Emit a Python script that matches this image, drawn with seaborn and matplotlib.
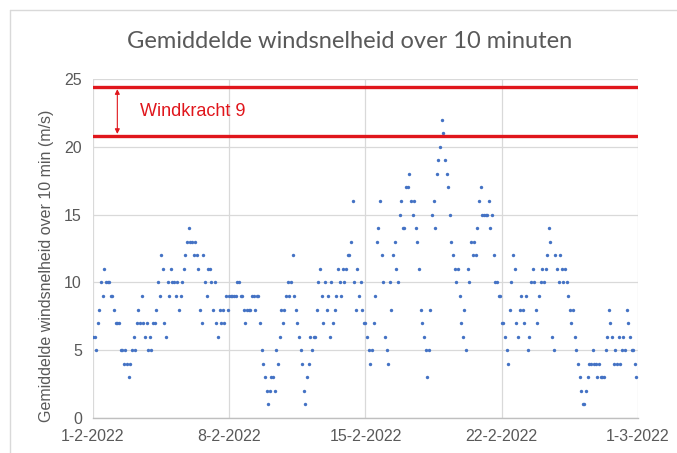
import matplotlib
matplotlib.use("Agg")
import matplotlib.pyplot as plt
import matplotlib.ticker as mticker
import matplotlib.dates as mdates
from matplotlib.lines import Line2D
import pandas as pd
import seaborn as sns

# 2-hourly wind speed readings (m/s), one list per day, Feb 2022
d01 = [6, 6, 5, 7, 8, 10, 9, 11, 10, 10, 10, 9]
d02 = [9, 8, 7, 7, 7, 5, 5, 4, 5, 4, 3, 4]
d03 = [5, 6, 5, 7, 8, 7, 9, 7, 6, 7, 5, 6]
d04 = [5, 7, 7, 8, 10, 9, 12, 11, 7, 6, 10, 9]
d05 = [11, 10, 10, 9, 10, 8, 9, 10, 11, 12, 13, 14]
d06 = [13, 13, 12, 13, 12, 11, 8, 7, 12, 10, 9, 11]
d07 = [11, 10, 8, 10, 7, 6, 8, 7, 8, 7, 9, 8]
d08 = [9, 9, 9, 9, 9, 10, 10, 9, 9, 8, 7, 8]
d09 = [8, 8, 9, 9, 8, 9, 9, 7, 5, 4, 3, 2]
d10 = [1, 2, 3, 3, 2, 5, 4, 6, 8, 7, 8, 9]
d11 = [10, 9, 10, 12, 9, 8, 7, 6, 5, 4, 2, 1]
d12 = [3, 4, 6, 5, 6, 6, 8, 10, 11, 9, 7, 10]
d13 = [8, 9, 6, 10, 7, 8, 9, 11, 10, 9, 11, 10]
d14 = [11, 12, 12, 13, 16, 10, 8, 11, 9, 10, 8, 7]
d15 = [7, 6, 5, 4, 5, 7, 9, 13, 14, 16, 12, 10]
d16 = [6, 5, 4, 10, 8, 12, 13, 11, 10, 15, 16, 14]
d17 = [14, 17, 17, 18, 16, 15, 16, 14, 13, 11, 8, 7]
d18 = [6, 5, 3, 5, 8, 15, 16, 14, 18, 19, 20, 22]
d19 = [21, 19, 18, 17, 15, 13, 12, 11, 10, 11, 9, 7]
d20 = [6, 8, 5, 11, 10, 13, 12, 13, 12, 14, 16, 17]
d21 = [15, 15, 15, 15, 16, 14, 15, 12, 10, 10, 9, 9]
d22 = [7, 7, 6, 5, 4, 8, 10, 12, 11, 7, 6, 8]
d23 = [9, 8, 7, 9, 5, 6, 10, 11, 10, 8, 7, 9]
d24 = [10, 11, 10, 11, 12, 14, 13, 6, 5, 12, 11, 10]
d25 = [12, 11, 10, 11, 10, 9, 8, 7, 8, 6, 5, 4]
d26 = [3, 2, 1, 1, 2, 3, 4, 4, 5, 4, 4, 3]
d27 = [4, 3, 3, 3, 5, 6, 8, 7, 6, 4, 5, 4]
d28 = [6, 4, 5, 6, 5, 8, 7, 6, 5, 5, 4, 3]

x_ticks = ["2022-02-01", "2022-02-08", "2022-02-15", "2022-02-22", "2022-03-01"]
y_ticks = [0, 5, 10, 15, 20, 25]
band_low, band_high = 20.8, 24.4
band_label = "Windkracht 9"
title = "Gemiddelde windsnelheid over 10 minuten"
ylabel = "Gemiddelde windsnelheid over 10 min (m/s)"

days = [d01, d02, d03, d04, d05, d06, d07, d08, d09, d10, d11, d12, d13, d14,
        d15, d16, d17, d18, d19, d20, d21, d22, d23, d24, d25, d26, d27, d28]
speed = [v for d in days for v in d]
times = pd.date_range("2022-02-01", periods=len(speed), freq="2h")
df = pd.DataFrame({"tijd": times, "snelheid": speed})

sns.set_theme(style="white")
plt.rcParams['font.family'] = ['Liberation Sans', 'DejaVu Sans']

grey = "#595959"
red = "#E0161C"
blue = "#4472C4"

fig = plt.figure(figsize=(6.77, 4.53), dpi=100)
ax = fig.add_axes([93 / 677, 35 / 453, 545 / 677, 339 / 453])

sns.scatterplot(data=df, x="tijd", y="snelheid", ax=ax, color=blue, s=6,
                linewidth=0, zorder=3)

ax.set_xlim(pd.Timestamp(x_ticks[0]), pd.Timestamp(x_ticks[-1]))
ax.set_ylim(0, 25)
ax.set_yticks(y_ticks)
ax.set_xticks(pd.to_datetime(x_ticks))
ax.xaxis.set_major_formatter(mticker.FuncFormatter(
    lambda v, p: (lambda d: f"{d.day}-{d.month}-{d.year}")(mdates.num2date(v))))
ax.grid(True, color="#D9D9D9", linewidth=0.9, zorder=0)
for s in ["top", "left", "right"]:
    ax.spines[s].set_visible(False)
ax.spines["bottom"].set_color("#BFBFBF")
ax.spines["bottom"].set_linewidth(1.0)
ax.tick_params(length=0, colors=grey, labelsize=11.5, pad=8)
ax.set_xlabel("")
ax.set_ylabel("")

ax.axhline(band_high, color=red, lw=2.4, zorder=4)
ax.axhline(band_low, color=red, lw=2.4, zorder=4)
xa = pd.Timestamp("2022-02-02 06:00")
ax.annotate("", xy=(xa, band_low + 0.15), xytext=(xa, band_high - 0.15),
            arrowprops=dict(arrowstyle="<|-|>", color=red, lw=0.8,
                            mutation_scale=7, shrinkA=0, shrinkB=0), zorder=5)
ax.text(pd.Timestamp("2022-02-03 10:00"), (band_low + band_high) / 2, band_label,
        color=red, fontsize=13, va="center", ha="left", zorder=5)

fig.text(350 / 677, 1 - 42 / 453, title, ha="center", va="center",
         fontsize=17, color=grey, family=["Lato", "DejaVu Sans"])
fig.text(47 / 677, 1 - 266 / 453, ylabel, rotation=90, ha="center", va="center",
         fontsize=11.5, color=grey)

fig.add_artist(Line2D([10 / 677, 10 / 677], [0, 1 - 10 / 453], color="#D9D9D9", lw=1))
fig.add_artist(Line2D([10 / 677, 1], [1 - 10 / 453, 1 - 10 / 453], color="#D9D9D9", lw=1))

fig.savefig("out.png", dpi=100, facecolor="white")
